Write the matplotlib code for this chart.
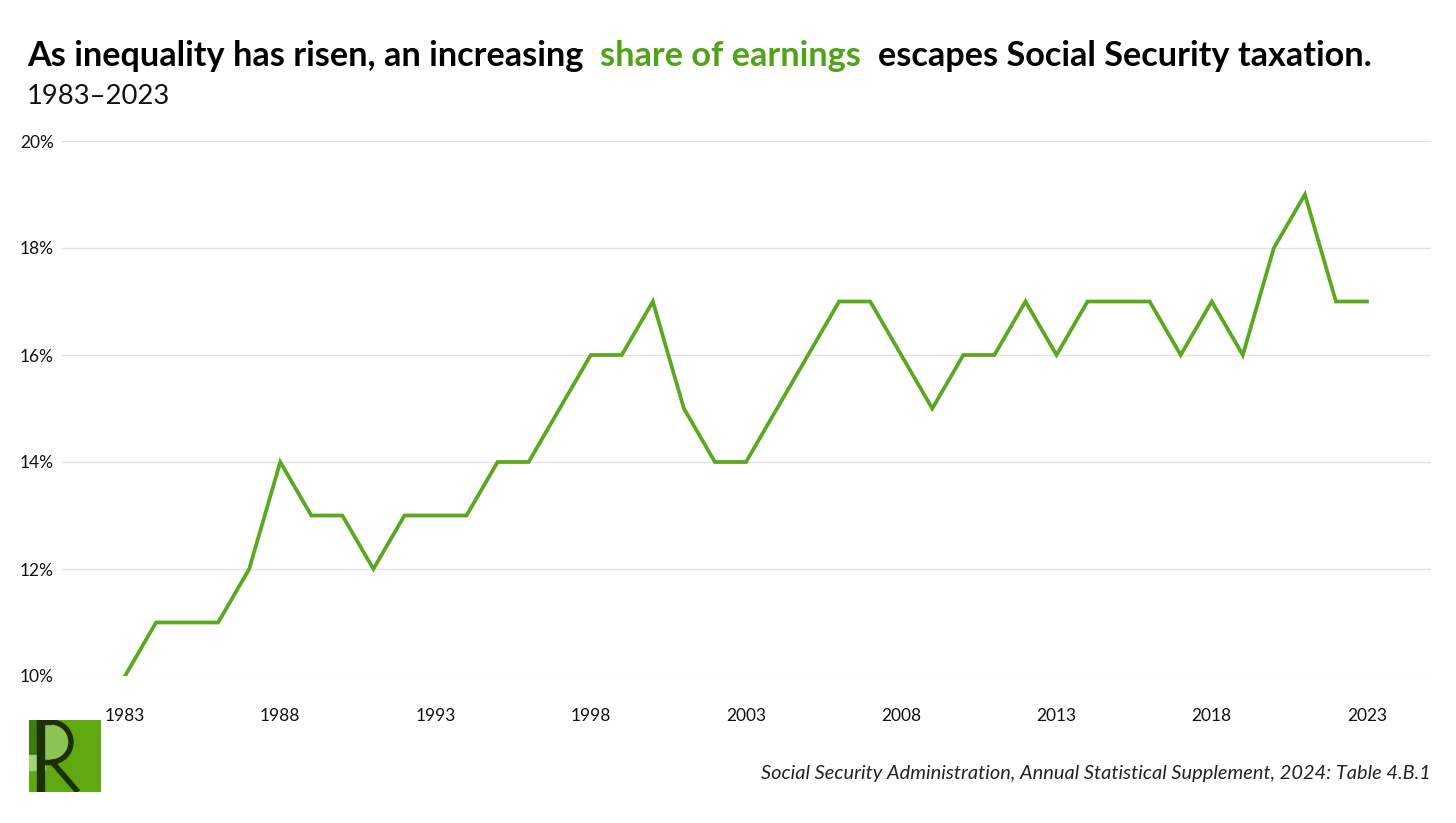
#!/usr/bin/env python3
# Share of earnings above the Social Security taxable maximum, 1983-2023

import matplotlib
matplotlib.use("Agg")
import matplotlib.pyplot as plt
from matplotlib.patches import Rectangle, Wedge

years = list(range(1983, 2024))
share_pct = [10, 11, 11, 11, 12, 14, 13, 13, 12, 13,
             13, 13, 14, 14, 15, 16, 16, 17, 15, 14,
             14, 15, 16, 17, 17, 16, 15, 16, 16, 17,
             16, 17, 17, 17, 16, 17, 16, 18, 19, 17,
             17]
x_ticks = [1983, 1988, 1993, 1998, 2003, 2008, 2013, 2018, 2023]
y_ticks = [10, 12, 14, 16, 18, 20]

GREEN = "#5aa81f"
TITLE_GREEN = "#4fa318"

plt.rcParams['font.family'] = ['Lato', 'DejaVu Sans']

W, H = 1456, 823
fig = plt.figure(figsize=(W / 100, H / 100), dpi=100)
ax = fig.add_axes([62 / W, 1 - 676 / H, (1431 - 62) / W, (676 - 141) / H])

ax.plot(years, share_pct, color=GREEN, lw=2.7, solid_joinstyle='miter', zorder=3)
ax.set_xlim(1983 - 63 / 31.05, 2023 + 64 / 31.05)
ax.set_ylim(10, 20)
ax.set_yticks(y_ticks)
ax.set_yticklabels([f"{v}%" for v in y_ticks])
ax.set_xticks(x_ticks)
ax.set_xticklabels([str(v) for v in x_ticks])
ax.grid(axis='y', color='#e1e1e1', lw=1)
ax.set_axisbelow(True)
for s in ax.spines.values():
    s.set_visible(False)
ax.tick_params(axis='both', length=0, labelsize=12.5, colors='#111111')
ax.tick_params(axis='x', pad=23)
ax.tick_params(axis='y', pad=6)

fig.canvas.draw()
r = fig.canvas.get_renderer()


def fitted_text(x, y, s, target_w, size, **kw):
    # shrink/grow the font so the text spans target_w pixels
    t = fig.text(x, y, s, fontsize=size, **kw)
    w = t.get_window_extent(r).width
    t.set_fontsize(size * target_w / w)
    return t


# title in three pieces so the middle part can be green
parts = [("As inequality has risen, an increasing  ", 'black'),
         ("share of earnings  ", TITLE_GREEN),
         ("escapes Social Security taxation.", 'black')]
probe = fig.text(0, 0, "".join(p[0] for p in parts), fontsize=20, fontweight='bold')
tsize = 20 * (1370 - 27) / probe.get_window_extent(r).width
probe.remove()
x0 = 27 / W
ty = 1 - 56 / H
for txt, col in parts:
    t = fig.text(x0, ty, txt, fontsize=tsize, fontweight='bold', color=col,
                 va='center', ha='left')
    x0 += t.get_window_extent(r).width / W

fitted_text(27 / W, 1 - 97 / H, "1983\u20132023", 170 - 27, 18,
            color='#111111', va='center', ha='left')

fitted_text(1431 / W, 1 - 773 / H,
            "Social Security Administration, Annual Statistical Supplement, 2024: Table 4.B.1",
            1431 - 765, 12, style='italic', color='#222222', ha='right', va='center')

# logo
lax = fig.add_axes([29 / W, 1 - 792 / H, 72 / W, 72 / H])
lax.set_xlim(0, 72)
lax.set_ylim(0, 72)
lax.axis('off')
lax.add_patch(Rectangle((0, 0), 72, 72, color='#5fa80f'))
lax.add_patch(Rectangle((0, 37), 8, 35, color='#3f7d0c'))
lax.add_patch(Rectangle((0, 22), 16, 15, color='#a6d27a'))
lax.add_patch(Wedge((22, 50), 19, -90, 90, color='#8cc454'))
lax.add_patch(Rectangle((13, 31), 9, 38, color='#8cc454'))
lax.add_patch(Wedge((22, 50), 22, -90, 90, width=4, color='#1c3006'))
lax.add_patch(Rectangle((8, 0), 7, 72, color='#1c3006'))
lax.add_patch(Rectangle((8, 68), 14, 4, color='#1c3006'))
lax.add_patch(Rectangle((13, 28), 9, 4, color='#1c3006'))
lax.plot([24, 49], [29, 0], color='#1c3006', lw=4, solid_capstyle='butt')

fig.savefig("out.png", dpi=100, facecolor='white')
